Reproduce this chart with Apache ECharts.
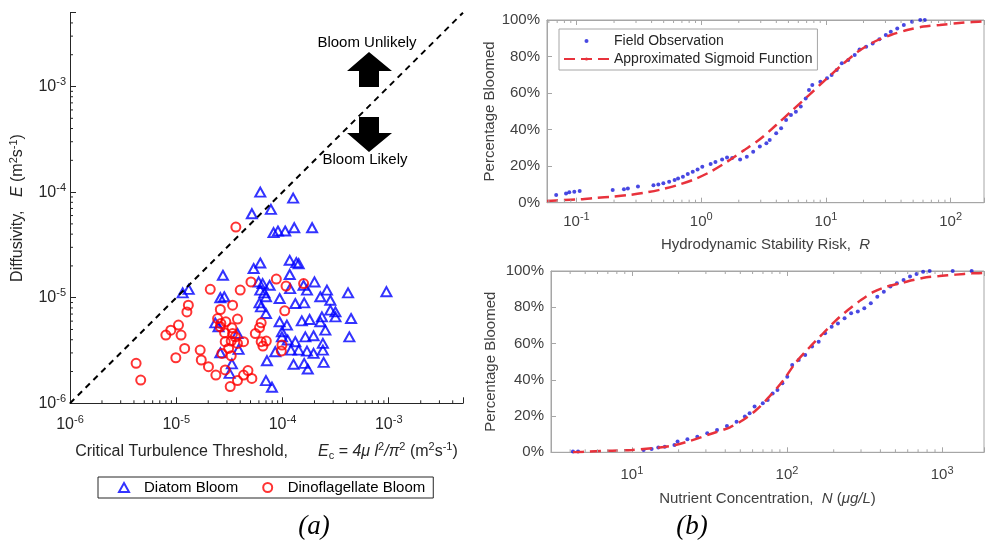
<!DOCTYPE html>
<html>
<head>
<meta charset="utf-8">
<script src="https://cdn.jsdelivr.net/npm/echarts@6/dist/echarts.min.js"></script>
<style>
  html, body { margin: 0; padding: 0; background: #fff; }
  #main { width: 987px; height: 540px; }
</style>
</head>
<body>
<div id="main"></div>
<script>
// (a) critical turbulence threshold vs diffusivity
const diatomEc = [6.18e-5, 1.26e-4, 5.15e-5, 7.78e-5, 8.24e-5, 9.06e-5, 1.06e-4, 1.29e-4, 1.90e-4, 6.18e-5,
  5.35e-5, 1.17e-4, 1.35e-4, 1.42e-4, 1.17e-4, 2.75e-5, 1.15e-5, 1.31e-5, 2.60e-5, 2.83e-5,
  5.96e-5, 6.50e-5, 7.57e-5, 6.18e-5, 6.75e-5, 6.99e-5, 6.08e-5, 6.27e-5, 6.99e-5, 9.40e-5,
  1.18e-4, 1.58e-4, 2.00e-4, 1.70e-4, 2.27e-4, 2.62e-4, 2.82e-4, 1.32e-4, 1.60e-4, 2.82e-4,
  3.15e-4, 3.15e-4, 4.14e-4, 9.51e-4, 4.42e-4, 4.26e-4, 9.40e-5, 1.10e-4, 1.52e-4, 1.80e-4,
  2.27e-4, 2.35e-4, 2.53e-4, 2.40e-4, 2.40e-4, 1.96e-4, 1.64e-4, 1.96e-4, 1.70e-4, 1.42e-4,
  1.20e-4, 1.32e-4, 1.12e-4, 9.88e-5, 9.88e-5, 8.55e-5, 1.27e-4, 1.60e-4, 1.73e-4, 2.44e-4,
  7.14e-5, 6.99e-5, 7.96e-5, 3.34e-5, 3.18e-5, 2.33e-5, 2.50e-5, 3.77e-5, 3.86e-5, 2.60e-5];
const diatomE = [1.00e-4, 8.77e-5, 6.24e-5, 6.86e-5, 4.13e-5, 4.28e-5, 4.28e-5, 4.60e-5, 4.60e-5, 2.13e-5,
  1.89e-5, 2.26e-5, 2.15e-5, 2.10e-5, 1.66e-5, 1.63e-5, 1.11e-5, 1.20e-5, 1.00e-5, 1.02e-5,
  1.41e-5, 1.36e-5, 1.31e-5, 1.18e-5, 1.11e-5, 1.02e-5, 8.94e-6, 8.19e-6, 7.08e-6, 9.82e-6,
  1.22e-5, 1.31e-5, 1.41e-5, 1.18e-5, 1.02e-5, 1.18e-5, 9.46e-6, 8.81e-6, 8.94e-6, 7.62e-6,
  7.34e-6, 6.59e-6, 1.11e-5, 1.14e-5, 6.35e-6, 4.26e-6, 5.91e-6, 5.50e-6, 6.04e-6, 6.22e-6,
  5.91e-6, 6.59e-6, 4.93e-6, 3.69e-6, 3.19e-6, 2.97e-6, 4.26e-6, 4.36e-6, 3.12e-6, 3.19e-6,
  3.19e-6, 3.83e-6, 3.97e-6, 4.26e-6, 4.76e-6, 3.08e-6, 2.34e-6, 2.39e-6, 2.11e-6, 2.44e-6,
  2.53e-6, 1.64e-6, 1.42e-6, 2.36e-6, 1.92e-6, 5.78e-6, 5.30e-6, 4.58e-6, 3.24e-6, 3.01e-6];
const dinoEc = [3.64e-5, 2.09e-5, 4.00e-5, 5.05e-5, 8.75e-5, 1.08e-4, 1.58e-4, 1.30e-5, 1.26e-5, 1.05e-5,
  8.89e-6, 7.98e-6, 1.11e-5, 1.20e-5, 9.91e-6, 4.19e-6, 4.63e-6, 1.68e-5, 1.72e-5, 2.01e-5,
  2.36e-5, 3.22e-5, 3.77e-5, 4.30e-5, 4.73e-5, 5.15e-5, 2.89e-5, 2.60e-5, 3.39e-5, 3.77e-5,
  2.45e-5, 2.63e-5, 2.60e-5, 2.93e-5, 3.34e-5, 2.85e-5, 3.39e-5, 3.59e-5, 2.89e-5, 3.29e-5,
  3.77e-5, 4.30e-5, 3.11e-5, 2.69e-5, 3.29e-5, 5.55e-5, 6.08e-5, 6.30e-5, 6.30e-5, 6.54e-5,
  7.04e-5, 9.88e-5, 9.75e-5, 1.05e-4];
const dinoE = [4.67e-5, 1.20e-5, 1.18e-5, 1.41e-5, 1.50e-5, 1.29e-5, 1.36e-5, 8.49e-6, 7.34e-6, 5.50e-6,
  4.93e-6, 4.43e-6, 4.43e-6, 3.31e-6, 2.70e-6, 2.39e-6, 1.66e-6, 3.19e-6, 2.57e-6, 2.22e-6,
  1.85e-6, 1.44e-6, 1.64e-6, 1.85e-6, 2.04e-6, 1.72e-6, 2.07e-6, 7.73e-6, 8.49e-6, 6.27e-6,
  6.35e-6, 5.70e-6, 5.30e-6, 5.91e-6, 5.19e-6, 4.66e-6, 4.58e-6, 4.26e-6, 3.83e-6, 3.88e-6,
  3.69e-6, 3.83e-6, 3.31e-6, 2.97e-6, 2.82e-6, 4.58e-6, 5.22e-6, 5.78e-6, 3.83e-6, 3.48e-6,
  3.88e-6, 3.56e-6, 3.12e-6, 7.52e-6];
const boundaryEc = [1e-6, 5e-3];
const boundaryE = [1e-6, 5e-3];

// (b) top: hydrodynamic stability risk
const riskObsR = [0.0687, 0.0824, 0.0875, 0.096, 0.106, 0.195, 0.240, 0.258, 0.311, 0.414,
  0.453, 0.497, 0.553, 0.612, 0.652, 0.713, 0.780, 0.855, 0.935, 1.02,
  1.19, 1.30, 1.47, 1.61, 1.77, 2.05, 2.32, 2.61, 2.95, 3.33,
  3.54, 3.99, 4.37, 4.79, 5.24, 5.74, 6.28, 6.88, 7.31, 7.77,
  9.02, 10.2, 11.1, 12.2, 13.4, 15.1, 17.0, 18.6, 21.0, 23.7,
  26.8, 30.2, 33.1, 37.3, 42.1, 49.0, 57.0, 62.0];
const riskObsPct = [4.2, 5.1, 5.7, 6.0, 6.4, 6.9, 7.3, 7.8, 8.8, 9.5,
  10.0, 10.6, 11.5, 12.4, 13.3, 14.2, 15.7, 17.0, 18.2, 19.7,
  21.2, 22.3, 23.7, 24.8, 24.5, 23.7, 25.2, 27.9, 30.7, 32.5,
  34.3, 38.0, 40.7, 45.3, 48.0, 49.8, 52.6, 57.1, 61.7, 64.4,
  66.2, 68.1, 69.9, 72.6, 76.3, 78.1, 80.8, 83.9, 85.4, 87.2,
  89.4, 91.8, 93.6, 95.4, 97.3, 99.1, 100, 100];
const riskFitR = [0.058, 0.0785, 0.106, 0.144, 0.194, 0.263, 0.356, 0.481, 0.651, 0.881,
  1.19, 1.61, 2.18, 2.95, 3.99, 5.40, 7.31, 9.89, 13.4, 18.1,
  24.4, 33.1, 44.8, 60.5, 81.9, 111, 150, 185];
const riskFitPct = [0.9, 1.5, 1.8, 2.6, 3.3, 4.2, 5.5, 7.3, 9.7, 12.8,
  17.0, 22.4, 28.5, 34.7, 42.5, 50.7, 58.9, 67.2, 75.4, 82.7,
  88.1, 91.8, 94.5, 96.4, 97.3, 98.2, 98.9, 99.2];

// (b) bottom: nutrient concentration
const nutObsN = [4.17, 4.5, 11.9, 13.4, 14.8, 16.3, 18.8, 19.7, 22.8, 26.4,
  30.6, 35.4, 41.0, 47.3, 53.5, 57.4, 61.8, 69.8, 75.1, 80.8,
  86.8, 93.4, 100.4, 108, 119, 131, 145, 160, 176, 194,
  213, 235, 259, 286, 315, 347, 382, 421, 464, 511,
  564, 621, 684, 754, 831, 1170, 1550];
const nutObsPct = [0.4, 0.4, 1.3, 1.8, 2.6, 3.1, 4.0, 5.9, 7.2, 8.6,
  10.5, 12.3, 14.5, 16.9, 19.7, 21.5, 25.2, 27.0, 28.9, 32.5,
  34.4, 38.1, 41.7, 48.2, 50.9, 53.7, 58.3, 61.0, 65.6, 69.3,
  71.1, 73.9, 76.7, 77.6, 79.4, 82.2, 85.8, 88.6, 91.4, 93.2,
  95.0, 96.9, 98.3, 99.6, 100, 100, 100];
const nutFitN = [4.17, 5.32, 7.47, 10, 13.4, 17.9, 24.0, 32.1, 42.9, 52.1,
  63.3, 76.9, 93.4, 113, 138, 167, 203, 247, 300, 364,
  442, 537, 652, 792, 961, 1227, 1563, 1862];
const nutFitPct = [0, 0.4, 0.9, 1.3, 2.2, 3.5, 6.4, 10.1, 13.8, 17.8,
  23.3, 30.7, 39.0, 49.1, 57.4, 64.7, 72.1, 78.5, 84.0, 88.6,
  91.4, 93.2, 95.0, 96.5, 97.2, 98.0, 98.7, 99.0];

const minorMult = [2, 3, 4, 5, 6, 7, 8, 9];
const leftRange = [1e-6, 5e-3];
const riskRange = [0.058, 185];
const nutRange = [3.01, 1862];

const FONT = '"Liberation Sans", Arial, sans-serif';
const SERIF = '"Liberation Serif", "Times New Roman", serif';
const DARK = '#262626';
const GREY = '#404040';
const BOX = '#a6a6a6';

const zip = (a, b) => a.map((v, i) => [v, b[i]]);

function minorTicks(range) {
  const out = [];
  const e0 = Math.floor(Math.log10(range[0]));
  const e1 = Math.ceil(Math.log10(range[1]));
  for (let e = e0; e <= e1; e++) {
    minorMult.forEach(m => {
      const v = m * Math.pow(10, e);
      if (v > range[0] && v < range[1]) out.push(v);
    });
  }
  return out;
}

const supRich = {
  s: { fontSize: 11, lineHeight: 10, verticalAlign: 'top', fontFamily: FONT },
  b: { fontSize: 11, lineHeight: 10, verticalAlign: 'bottom', fontFamily: FONT },
  i: { fontStyle: 'italic', fontFamily: FONT },
  f: { fontSize: 16, lineHeight: 20, fontFamily: FONT },
  fi: { fontSize: 16, lineHeight: 20, fontStyle: 'italic', fontFamily: FONT },
  g: { width: 30, lineHeight: 20 }
};

function decadeLabel(value) {
  const l = Math.log10(value);
  if (Math.abs(l - Math.round(l)) > 1e-6) return '';
  return '10{s|' + Math.round(l) + '}';
}

function tickSeries(xi, yi, values, ref, dir, both, color, len) {
  return {
    type: 'custom',
    xAxisIndex: xi,
    yAxisIndex: yi,
    silent: true,
    z: 5,
    data: values.map(v => dir === 'x' ? [v, ref] : [ref, v]),
    renderItem(params, api) {
      const cs = params.coordSys;
      const p = api.coord([api.value(0), api.value(1)]);
      const segs = [];
      if (dir === 'x') {
        segs.push([p[0], cs.y + cs.height, p[0], cs.y + cs.height - len]);
        if (both) segs.push([p[0], cs.y, p[0], cs.y + len]);
      } else {
        segs.push([cs.x, p[1], cs.x + len, p[1]]);
      }
      return {
        type: 'group',
        children: segs.map(s => ({
          type: 'line',
          shape: { x1: s[0], y1: s[1], x2: s[2], y2: s[3] },
          style: { stroke: color, lineWidth: 1 }
        }))
      };
    }
  };
}

function logX(grid, range, opts) {
  return Object.assign({
    type: 'log', logBase: 10, gridIndex: grid, min: range[0], max: range[1],
    axisLine: { show: true, lineStyle: { color: BOX, width: 1 } },
    axisTick: { show: true, inside: true, length: 5, lineStyle: { color: BOX } },
    splitLine: { show: false },
    axisLabel: {
      formatter: decadeLabel, color: GREY, fontSize: 15, fontFamily: FONT,
      lineHeight: 20, margin: 9, rich: supRich
    }
  }, opts);
}

function pctY(grid, gap) {
  return {
    type: 'value', gridIndex: grid, min: 0, max: 100, interval: 20,
    name: 'Percentage Bloomed', nameLocation: 'middle', nameGap: gap,
    nameTextStyle: { color: GREY, fontSize: 15, fontFamily: FONT },
    axisLine: { show: true, lineStyle: { color: BOX } },
    axisTick: { show: true, inside: true, length: 5, lineStyle: { color: BOX } },
    splitLine: { show: false },
    axisLabel: { formatter: '{value}%', color: GREY, fontSize: 15, fontFamily: FONT, margin: 7 }
  };
}

const chart = echarts.init(document.getElementById('main'), null, { renderer: 'canvas' });

const option = {
  backgroundColor: '#fff',
  animation: false,
  textStyle: { fontFamily: FONT },
  grid: [
    { left: 70, top: 12.7, width: 393, height: 390.6 },
    { left: 547, top: 20, right: -5, height: 182.7, show: true, borderColor: BOX, borderWidth: 1 },
    { left: 551, top: 271, right: -5, height: 181.3, show: true, borderColor: BOX, borderWidth: 1 }
  ],
  xAxis: [
    {
      type: 'log', logBase: 10, gridIndex: 0, min: leftRange[0], max: leftRange[1],
      name: '{f|Critical Turbulence Threshold,}{g| }{fi|E}{b|c}{f| = }{fi|4\u03bc l}{s|2}{fi|/\u03c0}{s|2}{f| (m}{s|2}{f|s}{s|-1}{f|)}',
      nameLocation: 'middle', nameGap: 38,
      nameTextStyle: { color: DARK, fontSize: 16, fontFamily: FONT, lineHeight: 20, rich: supRich },
      axisLine: { show: true, lineStyle: { color: DARK, width: 1 } },
      axisTick: { show: true, inside: true, length: 6, lineStyle: { color: DARK } },
      splitLine: { show: false },
      axisLabel: {
        formatter: decadeLabel, color: DARK, fontSize: 16, fontFamily: FONT,
        lineHeight: 20, margin: 11, rich: supRich
      }
    },
    logX(1, riskRange, {
      name: 'Hydrodynamic Stability Risk,  {i|R}', nameLocation: 'middle', nameGap: 35,
      nameTextStyle: { color: GREY, fontSize: 15, fontFamily: FONT, rich: supRich }
    }),
    logX(1, riskRange, { position: 'top', axisLabel: { show: false } }),
    logX(2, nutRange, {
      name: 'Nutrient Concentration,  {i|N} ({i|\u03bcg/L})', nameLocation: 'middle', nameGap: 39,
      nameTextStyle: { color: GREY, fontSize: 15, fontFamily: FONT, rich: supRich },
      axisLabel: {
        formatter: decadeLabel, color: GREY, fontSize: 15, fontFamily: FONT,
        lineHeight: 20, margin: 13, rich: supRich
      }
    }),
    logX(2, nutRange, { position: 'top', axisLabel: { show: false } })
  ],
  yAxis: [
    {
      type: 'log', logBase: 10, gridIndex: 0, min: leftRange[0], max: leftRange[1],
      name: 'Diffusivity,   {i|E} (m{s|2}s{s|-1})', nameLocation: 'middle', nameGap: 42,
      nameTextStyle: { color: DARK, fontSize: 16, fontFamily: FONT, lineHeight: 20, rich: supRich },
      axisLine: { show: true, lineStyle: { color: DARK, width: 1 } },
      axisTick: { show: true, inside: true, length: 6, lineStyle: { color: DARK } },
      splitLine: { show: false },
      axisLabel: {
        formatter: decadeLabel, color: DARK, fontSize: 16, fontFamily: FONT,
        lineHeight: 20, margin: 4, rich: supRich
      }
    },
    pctY(1, 47),
    pctY(2, 53)
  ],
  legend: [
    {
      left: 98, top: 477, orient: 'horizontal',
      padding: [3, 8, 3, 20], itemGap: 24, itemWidth: 10, itemHeight: 9,
      borderColor: DARK, borderWidth: 1, borderRadius: 0, backgroundColor: '#fff',
      textStyle: { color: '#000', fontSize: 15, fontFamily: FONT, padding: [0, 0, 0, 10] },
      selectedMode: false,
      data: [
        { name: 'Diatom Bloom', icon: 'triangle', itemStyle: { color: 'rgba(0,0,0,0)', borderColor: '#0000ff', borderWidth: 2 } },
        { name: 'Dinoflagellate Bloom', icon: 'circle', itemStyle: { color: 'rgba(0,0,0,0)', borderColor: '#ff0000', borderWidth: 2 } }
      ]
    },
    {
      left: 559, top: 29, orient: 'vertical',
      padding: [4, 5, 3, 4], itemGap: 2, itemWidth: 45, itemHeight: 4,
      borderColor: BOX, borderWidth: 1, borderRadius: 0, backgroundColor: '#fff',
      textStyle: { color: DARK, fontSize: 14, fontFamily: FONT, lineHeight: 16 },
      selectedMode: false,
      data: ['Field Observation', 'Approximated Sigmoid Function']
    }
  ],
  graphic: [
    { type: 'polygon', shape: { points: [[369, 52], [392, 71], [379, 71], [379, 87], [359, 87], [359, 71], [347, 71]] }, style: { fill: '#000' } },
    { type: 'polygon', shape: { points: [[359, 117], [379, 117], [379, 133], [392, 133], [369, 152], [347, 133], [359, 133]] }, style: { fill: '#000' } },
    { type: 'text', x: 367, y: 43, style: { text: 'Bloom Unlikely', align: 'center', verticalAlign: 'middle', fontSize: 15, fontFamily: FONT, fill: '#000' } },
    { type: 'text', x: 365, y: 160, style: { text: 'Bloom Likely', align: 'center', verticalAlign: 'middle', fontSize: 15, fontFamily: FONT, fill: '#000' } },
    { type: 'text', x: 314, y: 527, style: { text: '(a)', align: 'center', verticalAlign: 'middle', fontSize: 27, fontStyle: 'italic', fontFamily: SERIF, fill: '#000' } },
    { type: 'text', x: 692, y: 527, style: { text: '(b)', align: 'center', verticalAlign: 'middle', fontSize: 27, fontStyle: 'italic', fontFamily: SERIF, fill: '#000' } }
  ],
  series: [
    {
      name: 'boundary', type: 'line', xAxisIndex: 0, yAxisIndex: 0,
      data: zip(boundaryEc, boundaryE), symbol: 'none', silent: true,
      lineStyle: { color: '#000', width: 2, type: [6, 5] }
    },
    {
      name: 'Diatom Bloom', type: 'scatter', xAxisIndex: 0, yAxisIndex: 0,
      data: zip(diatomEc, diatomE), symbol: 'triangle', symbolSize: [10, 9],
      itemStyle: { color: 'rgba(0,0,0,0)', borderColor: '#0000ff', borderWidth: 2 }
    },
    {
      name: 'Dinoflagellate Bloom', type: 'scatter', xAxisIndex: 0, yAxisIndex: 0,
      data: zip(dinoEc, dinoE), symbol: 'circle', symbolSize: 9,
      itemStyle: { color: 'rgba(0,0,0,0)', borderColor: '#ff0000', borderWidth: 2 }
    },
    tickSeries(0, 0, minorTicks(leftRange), leftRange[0], 'x', false, DARK, 3),
    tickSeries(0, 0, minorTicks(leftRange), leftRange[0], 'y', false, DARK, 3),
    {
      name: 'Approximated Sigmoid Function', type: 'line', xAxisIndex: 1, yAxisIndex: 1,
      data: zip(riskFitR, riskFitPct), symbol: 'none', smooth: 0.3,
      lineStyle: { color: '#e8323c', width: 2.5, type: [11, 6] }, itemStyle: { color: '#e8323c' }
    },
    {
      name: 'Field Observation', type: 'scatter', xAxisIndex: 1, yAxisIndex: 1,
      data: zip(riskObsR, riskObsPct), symbol: 'circle', symbolSize: 4,
      itemStyle: { color: '#1a1adb' }
    },
    tickSeries(1, 1, minorTicks(riskRange), 50, 'x', true, BOX, 3),
    {
      name: 'Approximated Sigmoid Function', type: 'line', xAxisIndex: 3, yAxisIndex: 2,
      data: zip(nutFitN, nutFitPct), symbol: 'none', smooth: 0.3,
      lineStyle: { color: '#e8323c', width: 2.5, type: [11, 6] }, itemStyle: { color: '#e8323c' }
    },
    {
      name: 'Field Observation', type: 'scatter', xAxisIndex: 3, yAxisIndex: 2,
      data: zip(nutObsN, nutObsPct), symbol: 'circle', symbolSize: 4,
      itemStyle: { color: '#1a1adb' }
    },
    tickSeries(3, 2, minorTicks(nutRange), 50, 'x', true, BOX, 3)
  ]
};

chart.setOption(option);
</script>
</body>
</html>
